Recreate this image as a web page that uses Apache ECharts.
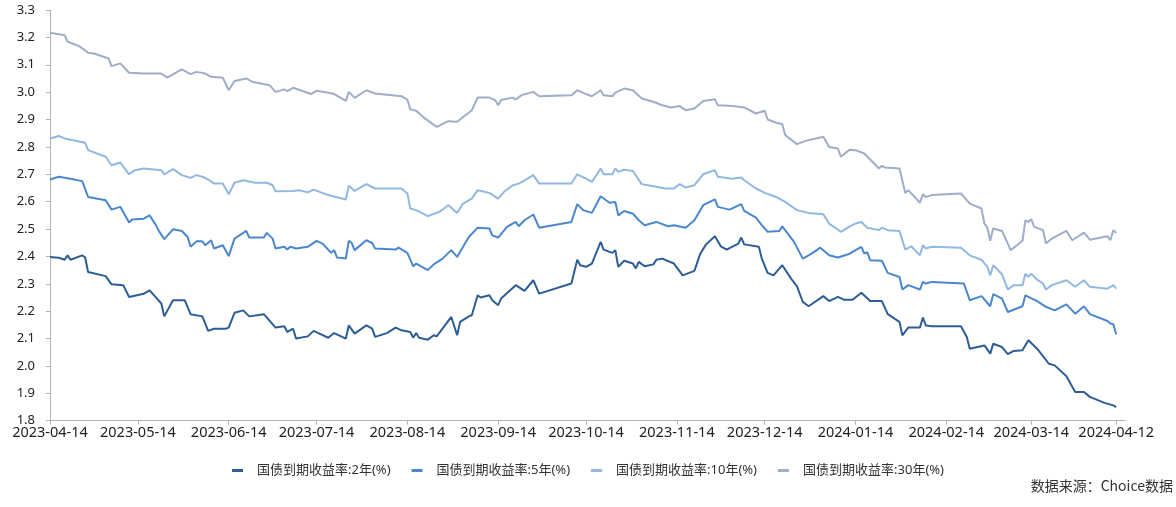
<!DOCTYPE html>
<html><head><meta charset="utf-8">
<script src="https://cdn.jsdelivr.net/npm/echarts@6/dist/echarts.min.js"></script>
<style>html,body{margin:0;padding:0;background:#fff}#c{width:1176px;height:507px}</style>
</head><body><div id="c"></div>
<script>
const seriesNames = ['国债到期收益率:2年(%)','国债到期收益率:5年(%)','国债到期收益率:10年(%)','国债到期收益率:30年(%)'];
const seriesColors = ['#2c5d95','#4a87cd','#92b7e0','#9eaec9'];
const tickLabels = ['2023-04-14','2023-05-14','2023-06-14','2023-07-14','2023-08-14','2023-09-14','2023-10-14','2023-11-14','2023-12-14','2024-01-14','2024-02-14','2024-03-14','2024-04-12'];
const axisStart = '2023-04-14';
const axisEnd = '2024-04-15';
const sourceNote = '数据来源：Choice数据';

const dates2y = ['2023-04-14','2023-04-17','2023-04-19','2023-04-20','2023-04-21','2023-04-25','2023-04-26','2023-04-27','2023-05-03','2023-05-05','2023-05-09','2023-05-11','2023-05-16','2023-05-17','2023-05-18','2023-05-20','2023-05-22','2023-05-23','2023-05-26','2023-05-30','2023-06-01','2023-06-05','2023-06-07','2023-06-09','2023-06-13','2023-06-14','2023-06-16','2023-06-19','2023-06-21','2023-06-26','2023-06-30','2023-07-03','2023-07-04','2023-07-06','2023-07-07','2023-07-11','2023-07-13','2023-07-18','2023-07-20','2023-07-24','2023-07-25','2023-07-27','2023-07-31','2023-08-02','2023-08-03','2023-08-07','2023-08-10','2023-08-12','2023-08-15','2023-08-16','2023-08-17','2023-08-18','2023-08-21','2023-08-23','2023-08-24','2023-08-26','2023-08-29','2023-08-31','2023-09-01','2023-09-04','2023-09-05','2023-09-07','2023-09-08','2023-09-11','2023-09-12','2023-09-14','2023-09-15','2023-09-20','2023-09-23','2023-09-26','2023-09-28','2023-10-09','2023-10-11','2023-10-12','2023-10-14','2023-10-16','2023-10-19','2023-10-20','2023-10-23','2023-10-24','2023-10-25','2023-10-27','2023-10-30','2023-10-31','2023-11-01','2023-11-03','2023-11-06','2023-11-07','2023-11-09','2023-11-13','2023-11-16','2023-11-20','2023-11-22','2023-11-24','2023-11-27','2023-11-29','2023-12-01','2023-12-05','2023-12-06','2023-12-07','2023-12-12','2023-12-13','2023-12-15','2023-12-17','2023-12-20','2023-12-23','2023-12-25','2023-12-27','2023-12-29','2024-01-03','2024-01-05','2024-01-08','2024-01-10','2024-01-13','2024-01-16','2024-01-19','2024-01-23','2024-01-25','2024-01-29','2024-01-30','2024-02-01','2024-02-05','2024-02-06','2024-02-07','2024-02-09','2024-02-19','2024-02-21','2024-02-22','2024-02-27','2024-02-29','2024-03-01','2024-03-04','2024-03-06','2024-03-08','2024-03-11','2024-03-13','2024-03-16','2024-03-20','2024-03-22','2024-03-26','2024-03-29','2024-04-01','2024-04-03','2024-04-08','2024-04-11','2024-04-12'];
const yield2y = [2.398,2.395,2.388,2.404,2.388,2.404,2.396,2.343,2.328,2.298,2.295,2.252,2.264,2.270,2.276,2.252,2.228,2.181,2.240,2.240,2.189,2.181,2.128,2.136,2.136,2.140,2.194,2.203,2.181,2.189,2.140,2.145,2.124,2.136,2.100,2.108,2.128,2.103,2.120,2.100,2.148,2.118,2.148,2.136,2.106,2.120,2.140,2.130,2.124,2.103,2.120,2.103,2.096,2.112,2.108,2.136,2.179,2.112,2.161,2.181,2.185,2.258,2.250,2.258,2.240,2.222,2.246,2.295,2.274,2.313,2.264,2.301,2.388,2.368,2.362,2.374,2.453,2.425,2.413,2.423,2.362,2.384,2.374,2.356,2.380,2.364,2.371,2.388,2.392,2.374,2.331,2.347,2.410,2.444,2.474,2.437,2.425,2.447,2.469,2.444,2.435,2.392,2.340,2.331,2.368,2.319,2.291,2.234,2.218,2.255,2.237,2.252,2.242,2.242,2.267,2.237,2.237,2.189,2.161,2.112,2.140,2.140,2.177,2.148,2.145,2.145,2.106,2.063,2.075,2.045,2.081,2.069,2.043,2.055,2.057,2.094,2.063,2.008,2.002,1.962,1.905,1.905,1.887,1.865,1.856,1.850];

const dates5y = ['2023-04-14','2023-04-17','2023-04-21','2023-04-25','2023-04-27','2023-05-03','2023-05-05','2023-05-08','2023-05-11','2023-05-12','2023-05-16','2023-05-18','2023-05-20','2023-05-21','2023-05-23','2023-05-26','2023-05-29','2023-05-31','2023-06-01','2023-06-03','2023-06-05','2023-06-06','2023-06-08','2023-06-09','2023-06-12','2023-06-14','2023-06-16','2023-06-20','2023-06-21','2023-06-26','2023-06-27','2023-06-29','2023-06-30','2023-07-03','2023-07-04','2023-07-05','2023-07-07','2023-07-11','2023-07-14','2023-07-16','2023-07-19','2023-07-20','2023-07-21','2023-07-24','2023-07-25','2023-07-26','2023-07-27','2023-07-31','2023-08-02','2023-08-03','2023-08-10','2023-08-11','2023-08-14','2023-08-16','2023-08-17','2023-08-21','2023-08-23','2023-08-26','2023-08-29','2023-08-31','2023-09-02','2023-09-04','2023-09-07','2023-09-11','2023-09-12','2023-09-14','2023-09-17','2023-09-20','2023-09-21','2023-09-23','2023-09-26','2023-09-28','2023-10-09','2023-10-11','2023-10-13','2023-10-16','2023-10-19','2023-10-22','2023-10-24','2023-10-25','2023-10-27','2023-10-30','2023-11-01','2023-11-03','2023-11-07','2023-11-11','2023-11-13','2023-11-17','2023-11-20','2023-11-23','2023-11-27','2023-11-28','2023-12-02','2023-12-06','2023-12-07','2023-12-11','2023-12-13','2023-12-15','2023-12-19','2023-12-20','2023-12-24','2023-12-27','2023-12-30','2024-01-02','2024-01-05','2024-01-08','2024-01-12','2024-01-14','2024-01-16','2024-01-17','2024-01-18','2024-01-19','2024-01-23','2024-01-25','2024-01-29','2024-01-30','2024-02-01','2024-02-05','2024-02-06','2024-02-07','2024-02-09','2024-02-20','2024-02-22','2024-02-26','2024-02-29','2024-03-01','2024-03-04','2024-03-06','2024-03-11','2024-03-12','2024-03-16','2024-03-19','2024-03-22','2024-03-26','2024-03-29','2024-04-01','2024-04-03','2024-04-09','2024-04-10','2024-04-11','2024-04-12'];
const yield5y = [2.681,2.691,2.684,2.675,2.617,2.605,2.571,2.581,2.524,2.535,2.538,2.550,2.517,2.496,2.463,2.499,2.493,2.471,2.435,2.455,2.455,2.441,2.459,2.429,2.441,2.401,2.465,2.493,2.469,2.469,2.486,2.465,2.429,2.435,2.425,2.435,2.429,2.435,2.457,2.447,2.413,2.423,2.396,2.392,2.457,2.449,2.423,2.459,2.449,2.429,2.425,2.432,2.413,2.364,2.374,2.350,2.371,2.392,2.423,2.398,2.435,2.471,2.505,2.502,2.477,2.469,2.508,2.526,2.510,2.532,2.553,2.505,2.526,2.591,2.569,2.559,2.620,2.596,2.599,2.550,2.566,2.556,2.532,2.514,2.526,2.510,2.514,2.505,2.532,2.587,2.608,2.581,2.571,2.591,2.566,2.542,2.514,2.490,2.493,2.510,2.453,2.392,2.410,2.432,2.404,2.396,2.410,2.423,2.435,2.410,2.416,2.386,2.384,2.340,2.325,2.279,2.295,2.279,2.307,2.301,2.307,2.301,2.240,2.255,2.218,2.262,2.246,2.197,2.218,2.258,2.237,2.216,2.203,2.225,2.191,2.218,2.189,2.164,2.155,2.152,2.116];

const dates10y = ['2023-04-14','2023-04-17','2023-04-19','2023-04-26','2023-04-27','2023-05-03','2023-05-05','2023-05-08','2023-05-11','2023-05-13','2023-05-16','2023-05-22','2023-05-23','2023-05-26','2023-05-29','2023-06-01','2023-06-03','2023-06-05','2023-06-07','2023-06-09','2023-06-12','2023-06-14','2023-06-16','2023-06-19','2023-06-23','2023-06-27','2023-06-29','2023-06-30','2023-07-06','2023-07-08','2023-07-11','2023-07-13','2023-07-18','2023-07-24','2023-07-25','2023-07-27','2023-07-31','2023-08-03','2023-08-12','2023-08-14','2023-08-15','2023-08-17','2023-08-21','2023-08-25','2023-08-28','2023-08-29','2023-08-31','2023-09-02','2023-09-05','2023-09-07','2023-09-11','2023-09-14','2023-09-16','2023-09-19','2023-09-21','2023-09-23','2023-09-26','2023-09-28','2023-10-09','2023-10-11','2023-10-14','2023-10-16','2023-10-19','2023-10-20','2023-10-23','2023-10-24','2023-10-25','2023-10-27','2023-10-30','2023-11-02','2023-11-06','2023-11-10','2023-11-13','2023-11-15','2023-11-17','2023-11-20','2023-11-23','2023-11-27','2023-11-28','2023-12-03','2023-12-06','2023-12-07','2023-12-11','2023-12-14','2023-12-18','2023-12-21','2023-12-25','2023-12-29','2024-01-03','2024-01-05','2024-01-09','2024-01-12','2024-01-14','2024-01-16','2024-01-18','2024-01-22','2024-01-23','2024-01-25','2024-01-29','2024-01-31','2024-02-02','2024-02-05','2024-02-06','2024-02-07','2024-02-09','2024-02-19','2024-02-22','2024-02-26','2024-02-28','2024-02-29','2024-03-01','2024-03-04','2024-03-06','2024-03-08','2024-03-11','2024-03-12','2024-03-13','2024-03-14','2024-03-16','2024-03-18','2024-03-19','2024-03-21','2024-03-26','2024-03-29','2024-04-01','2024-04-03','2024-04-09','2024-04-11','2024-04-12'];
const yield10y = [2.831,2.840,2.831,2.815,2.788,2.764,2.733,2.743,2.700,2.715,2.721,2.715,2.700,2.719,2.697,2.687,2.697,2.691,2.681,2.666,2.666,2.627,2.669,2.678,2.669,2.669,2.660,2.638,2.639,2.642,2.634,2.644,2.624,2.608,2.658,2.639,2.664,2.648,2.648,2.630,2.575,2.569,2.547,2.563,2.587,2.578,2.559,2.593,2.611,2.642,2.632,2.611,2.636,2.660,2.666,2.678,2.697,2.666,2.666,2.700,2.684,2.672,2.721,2.700,2.700,2.721,2.709,2.717,2.712,2.664,2.656,2.648,2.648,2.664,2.652,2.660,2.700,2.715,2.691,2.684,2.688,2.678,2.648,2.632,2.617,2.599,2.569,2.559,2.554,2.520,2.490,2.510,2.520,2.526,2.505,2.496,2.505,2.496,2.493,2.425,2.437,2.404,2.441,2.429,2.435,2.432,2.404,2.388,2.362,2.331,2.368,2.335,2.279,2.295,2.295,2.337,2.325,2.337,2.315,2.301,2.279,2.295,2.313,2.289,2.313,2.289,2.282,2.295,2.282];

const dates30y = ['2023-04-14','2023-04-19','2023-04-20','2023-04-24','2023-04-27','2023-04-29','2023-05-04','2023-05-05','2023-05-08','2023-05-11','2023-05-16','2023-05-22','2023-05-24','2023-05-29','2023-06-01','2023-06-03','2023-06-06','2023-06-08','2023-06-12','2023-06-14','2023-06-16','2023-06-20','2023-06-22','2023-06-28','2023-06-30','2023-07-03','2023-07-04','2023-07-06','2023-07-09','2023-07-12','2023-07-14','2023-07-18','2023-07-20','2023-07-24','2023-07-25','2023-07-27','2023-07-31','2023-08-03','2023-08-12','2023-08-14','2023-08-15','2023-08-17','2023-08-20','2023-08-24','2023-08-28','2023-08-31','2023-09-05','2023-09-07','2023-09-11','2023-09-13','2023-09-14','2023-09-15','2023-09-19','2023-09-20','2023-09-22','2023-09-26','2023-09-28','2023-10-09','2023-10-11','2023-10-14','2023-10-16','2023-10-19','2023-10-20','2023-10-23','2023-10-24','2023-10-27','2023-10-30','2023-11-02','2023-11-06','2023-11-09','2023-11-12','2023-11-15','2023-11-17','2023-11-20','2023-11-23','2023-11-27','2023-11-28','2023-12-03','2023-12-07','2023-12-11','2023-12-14','2023-12-15','2023-12-18','2023-12-20','2023-12-21','2023-12-25','2023-12-28','2024-01-03','2024-01-05','2024-01-08','2024-01-09','2024-01-12','2024-01-14','2024-01-17','2024-01-22','2024-01-23','2024-01-24','2024-01-29','2024-01-31','2024-02-01','2024-02-05','2024-02-06','2024-02-07','2024-02-09','2024-02-19','2024-02-22','2024-02-26','2024-02-27','2024-02-28','2024-02-29','2024-03-01','2024-03-04','2024-03-07','2024-03-11','2024-03-12','2024-03-13','2024-03-14','2024-03-15','2024-03-18','2024-03-19','2024-03-21','2024-03-26','2024-03-28','2024-04-01','2024-04-03','2024-04-09','2024-04-10','2024-04-11','2024-04-12'];
const yield30y = [3.217,3.208,3.184,3.168,3.144,3.141,3.123,3.095,3.105,3.071,3.068,3.068,3.053,3.083,3.066,3.074,3.068,3.056,3.053,3.007,3.041,3.050,3.038,3.025,3.001,3.010,3.004,3.016,3.005,2.993,3.005,2.998,2.993,2.968,3.001,2.979,3.007,2.995,2.985,2.973,2.937,2.932,2.904,2.873,2.894,2.892,2.934,2.980,2.980,2.971,2.952,2.971,2.980,2.973,2.989,3.001,2.985,2.989,3.007,2.993,2.985,3.007,2.989,2.985,2.998,3.013,3.007,2.977,2.965,2.952,2.944,2.949,2.934,2.940,2.968,2.974,2.952,2.949,2.944,2.922,2.932,2.900,2.888,2.883,2.843,2.810,2.822,2.837,2.800,2.794,2.764,2.790,2.788,2.776,2.721,2.731,2.725,2.721,2.632,2.642,2.596,2.627,2.617,2.624,2.630,2.593,2.575,2.520,2.505,2.457,2.502,2.493,2.423,2.457,2.532,2.526,2.536,2.508,2.496,2.447,2.465,2.493,2.459,2.487,2.461,2.474,2.459,2.496,2.486];

function toTime(s) { const p = s.split('-'); return Date.UTC(+p[0], +p[1] - 1, +p[2]); }
function pad(n) { return n < 10 ? '0' + n : '' + n; }
function fmtDate(t) { const d = new Date(t); return d.getUTCFullYear() + '-' + pad(d.getUTCMonth() + 1) + '-' + pad(d.getUTCDate()); }
function zip(ds, vs) { const out = []; const n = Math.min(ds.length, vs.length); for (let i = 0; i < n; i++) out.push([toTime(ds[i]), vs[i]]); return out; }

const allDates = [dates2y, dates5y, dates10y, dates30y];
const allYields = [yield2y, yield5y, yield10y, yield30y];
const tickTimes = tickLabels.map(toTime);
const FONT = "'Noto Sans', 'Noto Sans CJK SC', sans-serif";

const chart = echarts.init(document.getElementById('c'), null, { renderer: 'canvas' });
chart.setOption({
  animation: false,
  backgroundColor: '#fff',
  textStyle: { fontFamily: FONT },
  grid: { left: 50, right: 51, top: 10, bottom: 86.3, containLabel: false },
  legend: {
    left: 'center', top: 459,
    icon: 'rect', itemWidth: 11, itemHeight: 3, itemGap: 21,
    textStyle: { fontSize: 13, color: '#333', fontFamily: FONT, padding: [0, 0, 0, 9] },
    data: seriesNames
  },
  graphic: [{
    type: 'text', right: 3, top: 479,
    style: { text: sourceNote, font: "14px 'Noto Sans CJK SC', sans-serif", fill: '#333' }
  }],
  xAxis: {
    type: 'value', min: toTime(axisStart), max: toTime(axisEnd),
    axisLine: { show: true, lineStyle: { color: '#b3b3b3', width: 1 } },
    axisTick: { show: true, length: 4, customValues: tickTimes, lineStyle: { color: '#b3b3b3' } },
    axisLabel: { customValues: tickTimes, formatter: v => fmtDate(v), color: '#222', fontSize: 14.5, margin: 5, fontFamily: FONT, hideOverlap: false, showMinLabel: true, showMaxLabel: true },
    splitLine: { show: false }
  },
  yAxis: {
    type: 'value', min: 1.8, max: 3.3, interval: 0.1,
    axisLine: { show: true, lineStyle: { color: '#b3b3b3', width: 1 } },
    axisTick: { show: true, length: 4, lineStyle: { color: '#b3b3b3' } },
    axisLabel: { formatter: v => v.toFixed(1), color: '#222', fontSize: 13, margin: 15, fontFamily: FONT },
    splitLine: { show: false }
  },
  series: seriesNames.map((name, i) => ({
    name: name, type: 'line', showSymbol: false, symbol: 'none',
    data: zip(allDates[i], allYields[i]),
    lineStyle: { color: seriesColors[i], width: 2 },
    itemStyle: { color: seriesColors[i] },
    z: 10 - i
  }))
});
</script></body></html>
